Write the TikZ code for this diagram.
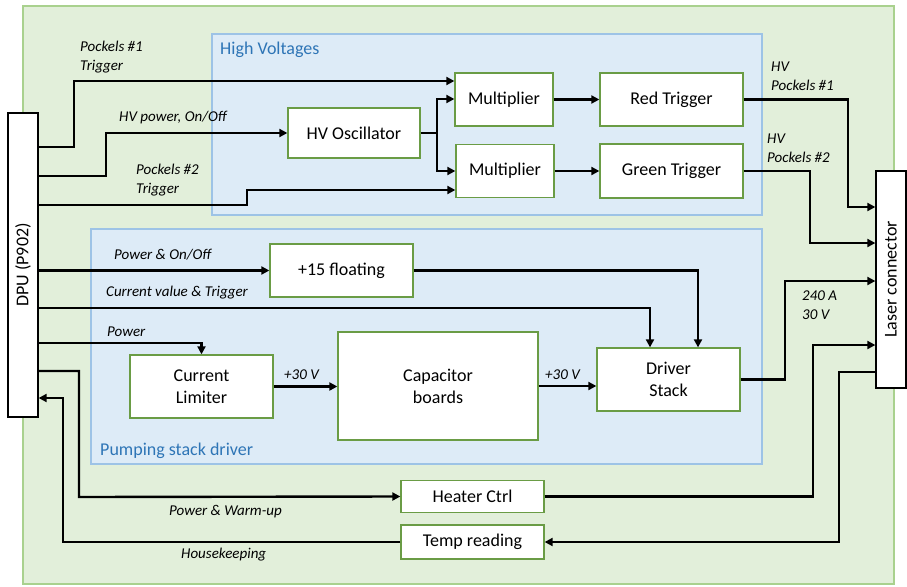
\documentclass[tikz,border=0pt]{standalone}
\usepackage{fontspec}
\setmainfont{Carlito}
\usepackage{xcolor}
\usepackage{tikz}
\usetikzlibrary{arrows.meta}

\definecolor{zonegreen}{HTML}{E2EFDA}
\definecolor{zonegreenline}{HTML}{A9D18E}
\definecolor{zoneblue}{HTML}{DDEBF7}
\definecolor{zoneblueline}{HTML}{9DC3E6}
\definecolor{zonetitle}{HTML}{2E75B6}
\definecolor{boxline}{HTML}{6A9C45}

\begin{document}
\begin{tikzpicture}[x=1pt, y=1pt,
  box/.style={draw=boxline, line width=1.3pt, fill=white, align=center,
    inner sep=0pt, font=\fontsize{18}{22}\selectfont},
  plug/.style={draw=black, line width=1.3pt, fill=white, inner sep=0pt,
    font=\fontsize{18}{22}\selectfont},
  wire/.style={line width=2.4pt, -{Triangle[length=8pt, width=8pt]}},
  tag/.style={anchor=west, inner sep=0pt, align=left,
    font=\fontsize{15}{19}\selectfont\itshape},
  zonetag/.style={anchor=west, inner sep=0pt, text=zonetitle,
    font=\fontsize{18}{22}\selectfont}]
\useasboundingbox (0,0) rectangle (907,-586);
% Enclosure and sub-zones
\draw[fill=zonegreen, draw=zonegreenline, line width=1.5pt] (23,-6) rectangle (894,-584);
\draw[fill=zoneblue, draw=zoneblueline, line width=1.2pt] (212,-34) rectangle (762,-215);
\draw[fill=zoneblue, draw=zoneblueline, line width=1.2pt] (91,-229) rectangle (762,-464);
\node[zonetag] (hvtitle) at (220,-50) {High Voltages};
\node[zonetag] (pumptitle) at (100,-451) {Pumping stack driver};
% Connectors at both ends
\node[plug, minimum width=30pt, minimum height=304pt] (dpu) at (23,-265)
     {\rotatebox{90}{DPU (P902)}};
\node[plug, minimum width=30pt, minimum height=217pt] (laser) at (891,-279.5)
     {\rotatebox{90}{Laser connector}};
% High voltage chain
\node[box, minimum width=132pt, minimum height=50pt] (osc) at (354,-133) {HV Oscillator};
\node[box, minimum width=98pt, minimum height=53pt] (mult1) at (504,-99.5) {Multiplier};
\node[box, minimum width=98pt, minimum height=53pt] (mult2) at (505,-171) {Multiplier};
\node[box, minimum width=143pt, minimum height=53pt] (red) at (671.5,-99.5) {Red Trigger};
\node[box, minimum width=143pt, minimum height=54pt] (green) at (671.5,-171) {Green Trigger};
% Pumping stack chain
\node[box, minimum width=143pt, minimum height=53pt] (float) at (341.5,-270.5) {+15 floating};
\node[box, minimum width=143pt, minimum height=63pt] (limiter) at (201.5,-386.5) {Current\\Limiter};
\node[box, minimum width=200pt, minimum height=108pt] (caps) at (438,-386) {Capacitor\\boards};
\node[box, minimum width=143pt, minimum height=63pt] (driver) at (668.5,-379.5) {Driver\\Stack};
% Thermal control
\node[box, minimum width=143pt, minimum height=32pt] (heater) at (472.5,-496.5) {Heater Ctrl};
\node[box, minimum width=143pt, minimum height=34pt] (temp) at (472.5,-542) {Temp reading};
% HV wiring
\draw[wire] (dpu.east |- 0,-147) -| (74,-81) -- (mult1.west |- 0,-81);
\draw[wire] (dpu.east |- 0,-176) -| (106,-133) -- (osc.west);
\draw[wire] (dpu.east |- 0,-205) -| (247,-190) -- (mult2.west |- 0,-190);
\draw[wire] (osc.east) -- (437,-133) |- (mult1.west |- 0,-99);
\draw[wire] (437,-133) |- (mult2.west |- 0,-171);
\draw[wire] (mult1.east) -- (red.west);
\draw[wire] (mult2.east) -- (green.west);
\draw[wire] (red.east) -| (848,-207) -- (laser.west |- 0,-207);
\draw[wire] (green.east) -| (810,-243) -- (laser.west |- 0,-243);
% Pumping wiring
\draw[wire] (dpu.east |- float.west) -- (float.west);
\draw[wire] (float.east) -| ([xshift=29.5pt]driver.north);
\draw[wire] (dpu.east |- 0,-308) -| ([xshift=-18.5pt]driver.north);
\draw[wire] (dpu.east |- 0,-343) -| (limiter.north);
\draw[wire] (limiter.east) -- (caps.west |- limiter.east);
\draw[wire] (caps.east |- 0,-386) -- (driver.west |- 0,-386);
\draw[wire] (driver.east) -| (785,-281) -- (laser.west |- 0,-281);
% Heater and housekeeping wiring
\draw[wire] (dpu.east |- 0,-371) -| (79,-497) -- (heater.west);
\draw[wire] (heater.east) -| (813,-345) -- (laser.west |- 0,-345);
\draw[wire] (laser.west |- 0,-372) -| (839,-542) -- (temp.east);
\draw[wire] (temp.west) -| (63,-398) -- (dpu.east |- 0,-398);
% Signal labels
\node[tag] (tpock1) at (80,-57.5) {Pockels \#1\\Trigger};
\node[tag] (thvpow) at (119,-118) {HV power, On/Off};
\node[tag] (tpock2) at (136,-180) {Pockels \#2\\Trigger};
\node[tag] (thv1) at (771,-76) {HV\\Pockels \#1};
\node[tag] (thv2) at (767,-148) {HV\\Pockels \#2};
\node[tag] (tonoff) at (114,-255) {Power \& On/Off};
\node[tag] (tcurr) at (106,-293) {Current value \& Trigger};
\node[tag] (tpow) at (107,-332) {Power};
\node[tag] (tvolt1) at (284,-375) {+30 V};
\node[tag] (tvolt2) at (545,-375) {+30 V};
\node[tag] (tamp) at (802,-305) {240 A\\30 V};
\node[tag] (twarm) at (169,-512) {Power \& Warm-up};
\node[tag] (thouse) at (181,-555) {Housekeeping};
\end{tikzpicture}
\end{document}
